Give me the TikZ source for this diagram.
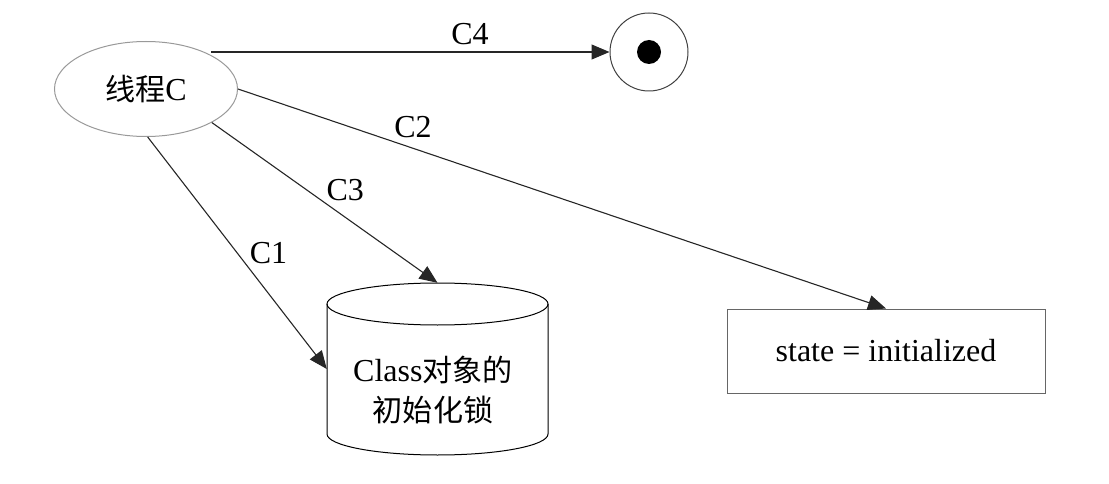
\documentclass[tikz,border=0pt]{standalone}
\usepackage{fontspec}
\setmainfont{Liberation Serif}
\newfontfamily\cjk[Scale=0.94]{Noto Sans CJK SC}
\usetikzlibrary{arrows.meta}
\usetikzlibrary{shapes.geometric}
\usetikzlibrary{positioning}

\begin{document}
\begin{tikzpicture}[x=1pt, y=-1pt,
    every node/.style={font=\fontsize{32}{40}\selectfont},
    arr/.style={-{Triangle[length=18pt,width=15pt]}, line width=1.1pt, draw=black!85},
    lbl/.style={inner sep=0pt}]
    \useasboundingbox (0,0) rectangle (1109,484);
    \node[ellipse, draw=black!40, line width=1pt, minimum width=183, minimum height=95, inner sep=0pt] (thread) at (146,89) {{\cjk 线程}C};
    \node[circle, draw=black!75, line width=1pt, minimum size=78, inner sep=0pt] (final) at (649,52) {};
    \fill[black] (final) circle (12);
    \node[minimum width=221, minimum height=172, inner sep=0pt] (lock) at (437.5,369) {};
    \draw[line width=1pt] (437.5,304) ellipse (110.5 and 21);
    \draw[line width=1pt] (327,304) -- (327,434) arc (180:0:110.5 and 21) -- (548,304);
    \node[align=center] (locktext) at (433,390) {Class{\cjk 对象的}\\{\cjk 初始化锁}};
    \node[draw=black!60, line width=1pt, minimum width=318, minimum height=84] (state) at (886,351) {state = initialized};
    \draw[arr] (thread.north east |- final.west) -- (final.west) node[lbl, pos=0.65, above=6.5pt] {C4};
    \draw[arr] (thread.east) -- (state.north) node[lbl, pos=0.27, above=10pt] {C2};
    \draw[arr] (thread.-27.5) -- (lock.north) node[lbl, pos=0.5, above right=2pt] {C3};
    \draw[arr] (thread.-88) -- (lock.west) node[lbl, pos=0.5, right=12pt] {C1};
\end{tikzpicture}
\end{document}
